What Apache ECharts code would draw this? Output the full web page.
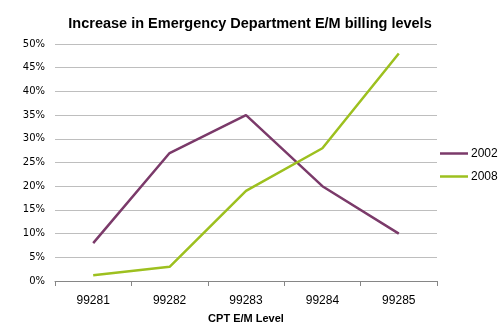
<!DOCTYPE html>
<html><head><meta charset="utf-8">
<script src="https://cdn.jsdelivr.net/npm/echarts@6/dist/echarts.min.js"></script>
<style>html,body{margin:0;padding:0;background:#fff}#c{width:504px;height:333px}</style>
</head><body><div id="c"></div>
<script>
const categories = ['99281','99282','99283','99284','99285'];
const s2002 = [8, 27, 35, 20, 10];
const s2008 = [1.2, 3, 19, 28, 48];
const yTicks = [0, 5, 10, 15, 20, 25, 30, 35, 40, 45, 50];

const chart = echarts.init(document.getElementById('c'), null, {renderer:'canvas'});
chart.setOption({
  animation: false,
  backgroundColor: '#fff',
  title: {
    text: 'Increase in Emergency Department E/M billing levels',
    left: 245, top: 11, textAlign: 'center',
    textStyle: {fontFamily: 'Liberation Sans', fontWeight: 'bold', fontSize: 14.5, color: '#000'}
  },
  legend: {
    orient: 'vertical', left: 440, top: 147.5, itemGap: 11, padding: 0,
    itemWidth: 28, itemHeight: 12,
    icon: 'path://M0,0 L28,0 L28,2.5 L0,2.5 Z',
    textStyle: {fontFamily: 'Liberation Sans', fontSize: 12, color: '#000', padding: [0,0,0,-2]},
    data: ['2002', '2008']
  },
  grid: {left: 55, right: 67, top: 44, bottom: 52, containLabel: false},
  xAxis: {
    type: 'category', data: categories, boundaryGap: true,
    name: 'CPT E/M Level', nameLocation: 'middle', nameGap: 32,
    nameTextStyle: {fontFamily: 'Liberation Sans', fontWeight: 'bold', fontSize: 11, color: '#000'},
    axisLine: {lineStyle: {color: '#868686', width: 1}},
    axisTick: {show: true, length: 5, lineStyle: {color: '#868686'}},
    axisLabel: {fontFamily: 'Liberation Sans', fontSize: 12, color: '#000', margin: 14}
  },
  yAxis: {
    type: 'value', min: 0, max: 50, interval: 5,
    axisLine: {show: false}, axisTick: {show: false},
    splitLine: {lineStyle: {color: '#BEBEBE', width: 1}},
    axisLabel: {fontFamily: 'DejaVu Sans', fontSize: 10, color: '#000', margin: 10,
      formatter: v => yTicks.includes(v) ? v + '%' : ''}
  },
  series: [
    {name: '2002', type: 'line', data: s2002, symbol: 'none',
     lineStyle: {color: '#7B3A6A', width: 2.5}, itemStyle: {color: '#7B3A6A'}},
    {name: '2008', type: 'line', data: s2008, symbol: 'none',
     lineStyle: {color: '#9DC01F', width: 2.5}, itemStyle: {color: '#9DC01F'}}
  ]
});
</script></body></html>
